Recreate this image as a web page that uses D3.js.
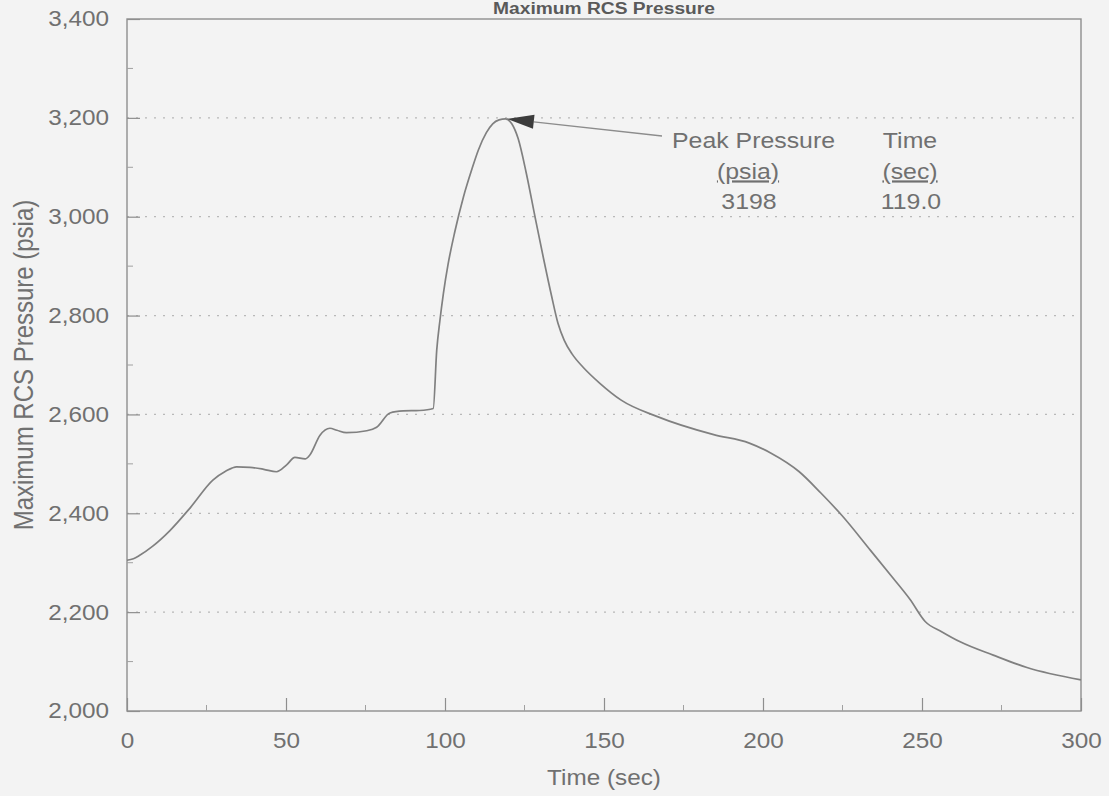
<!DOCTYPE html>
<html>
<head>
<meta charset="utf-8">
<script src="https://cdn.jsdelivr.net/npm/d3@7"></script>
<style>
  html, body { margin: 0; padding: 0; background: #f3f3f3; }
  svg { display: block; }
</style>
</head>
<body>
<script>
// Maximum RCS pressure transient (time in sec, pressure in psia)
const timeSec = [
  0, 2, 4, 8, 13.5, 20, 27, 31, 34.5, 38.7, 43, 47, 50.2, 52.8, 56, 57.5,
  60.7, 63.8, 66, 69, 75.4, 78.5, 82.7, 86.9, 92, 96.3, 97.4, 98.4, 99.5,
  101, 103.1, 105.8, 108.4, 110.5, 113, 115, 117, 119, 121, 123, 125.5,
  128.3, 131, 133.5, 135.5, 137.5, 140, 143.5, 148.7, 155.4, 166.6, 184.5,
  195.7, 202.4, 211.4, 218.2, 224.9, 233.8, 241, 246.2, 251, 256.3, 262,
  272.4, 283, 300
];
const pressurePsia = [
  2305, 2308, 2315, 2333, 2365, 2412, 2467, 2485, 2494, 2493, 2489, 2484,
  2498, 2513, 2510, 2518, 2558, 2572, 2568, 2563, 2567, 2574, 2603, 2607,
  2608, 2612, 2730, 2790, 2845, 2905, 2970, 3040, 3095, 3135, 3170, 3188,
  3196, 3198, 3188, 3158, 3090, 3000, 2915, 2840, 2785, 2750, 2722, 2695,
  2663, 2629, 2596, 2559, 2542, 2522, 2484, 2441, 2395, 2325, 2268, 2226,
  2181, 2160, 2140, 2113, 2088, 2063
];
const yTickValues = [2000, 2200, 2400, 2600, 2800, 3000, 3200, 3400];
const yMinorValues = [2100, 2300, 2500, 2700, 2900, 3100, 3300];
const xTickValues = [0, 50, 100, 150, 200, 250, 300];
const xMinorValues = [25, 75, 125, 175, 225, 275];
const gridValues = [2200, 2400, 2600, 2800, 3000, 3200];

const chartTitle = "Maximum RCS Pressure";
const xTitle = "Time (sec)";
const yTitle = "Maximum RCS Pressure (psia)";
const peakPressure = 3198;
const peakTime = 119.0;

const W = 1109, H = 796;
const plot = { left: 127, right: 1081, top: 19, bottom: 711 };
const SX = 1.13;               // horizontal stretch of the lettering
const FONT = "'Liberation Sans', Arial, Helvetica, sans-serif";
const INK = "#707070";

const svg = d3.select("body").append("svg")
  .attr("width", W).attr("height", H)
  .style("background", "#f3f3f3");

const x = d3.scaleLinear().domain([0, 300]).range([plot.left, plot.right]);
const y = d3.scaleLinear().domain([2000, 3400]).range([plot.bottom, plot.top]);

// dotted horizontal grid
svg.append("g").selectAll("line").data(gridValues).join("line")
  .attr("x1", plot.left).attr("x2", plot.right)
  .attr("y1", d => y(d)).attr("y2", d => y(d))
  .attr("stroke", "#b8b8b8").attr("stroke-width", 1.2)
  .attr("stroke-dasharray", "2,7");

// frame
svg.append("rect")
  .attr("x", plot.left).attr("y", plot.top)
  .attr("width", plot.right - plot.left).attr("height", plot.bottom - plot.top)
  .attr("fill", "none").attr("stroke", "#8e8e8e").attr("stroke-width", 1.4);

// left axis
const yAxis = svg.append("g")
  .attr("transform", `translate(${plot.left},0)`)
  .call(d3.axisLeft(y).tickValues(yTickValues).tickFormat(d3.format(",")).tickSize(-13).tickPadding(0));
yAxis.select(".domain").remove();
yAxis.selectAll(".tick line").attr("stroke", "#8e8e8e").attr("stroke-width", 1.2);
yAxis.selectAll(".tick text")
  .attr("x", -18 / SX)
  .attr("transform", `scale(${SX},1)`)
  .attr("font-family", FONT).attr("font-size", 21.5).attr("fill", INK);

svg.append("g").selectAll("line").data(yMinorValues).join("line")
  .attr("x1", plot.left).attr("x2", plot.left + 6)
  .attr("y1", d => y(d)).attr("y2", d => y(d))
  .attr("stroke", "#a0a0a0").attr("stroke-width", 1);

// bottom axis
const xAxis = svg.append("g")
  .attr("transform", `translate(0,${plot.bottom})`)
  .call(d3.axisBottom(x).tickValues(xTickValues).tickFormat(d3.format("d")).tickSize(-13).tickPadding(0));
xAxis.select(".domain").remove();
xAxis.selectAll(".tick line").attr("stroke", "#8e8e8e").attr("stroke-width", 1.2);
xAxis.selectAll(".tick text")
  .attr("y", 37).attr("dy", null)
  .attr("transform", `scale(${SX},1)`)
  .attr("font-family", FONT).attr("font-size", 21.5).attr("fill", INK);

svg.append("g").selectAll("line").data(xMinorValues).join("line")
  .attr("x1", d => x(d)).attr("x2", d => x(d))
  .attr("y1", plot.bottom).attr("y2", plot.bottom - 6)
  .attr("stroke", "#a0a0a0").attr("stroke-width", 1);

// pressure trace
const line = d3.line()
  .x((d, i) => x(timeSec[i]))
  .y(d => y(d))
  .curve(d3.curveMonotoneX);
svg.append("path")
  .datum(pressurePsia)
  .attr("d", line)
  .attr("fill", "none")
  .attr("stroke", "#808080")
  .attr("stroke-width", 1.7);

// helper for stretched text
function label(txt, px, py, opts = {}) {
  return svg.append("text")
    .attr("transform", `translate(${px},${py}) scale(${SX},1)` + (opts.rotate ? ` rotate(${opts.rotate})` : ""))
    .attr("text-anchor", opts.anchor || "middle")
    .attr("font-family", FONT)
    .attr("font-size", opts.size || 21.5)
    .attr("font-weight", opts.weight || "normal")
    .attr("fill", opts.fill || INK)
    .attr("text-decoration", opts.underline ? "underline" : null)
    .text(txt);
}

// titles
label(chartTitle, 604, 14, { weight: "bold", fill: "#5a5a5a", size: 17 });
label(xTitle, 604, 785);
label(yTitle, 33, 365, { rotate: -90, size: 24 });

// peak annotation: arrow from the text to the peak point
const tipX = x(peakTime) + 1.5, tipY = y(peakPressure);
const endX = 662, endY = 136;
const ang = Math.atan2(endY - tipY, endX - tipX);
const headLen = 27, headHalf = 7;
const bx = tipX + headLen * Math.cos(ang), by = tipY + headLen * Math.sin(ang);
svg.append("line")
  .attr("x1", bx).attr("y1", by).attr("x2", endX).attr("y2", endY)
  .attr("stroke", "#8c8c8c").attr("stroke-width", 1.3);
svg.append("path")
  .attr("d", `M${tipX},${tipY} L${bx - headHalf * Math.sin(ang)},${by + headHalf * Math.cos(ang)} L${bx + headHalf * Math.sin(ang)},${by - headHalf * Math.cos(ang)} Z`)
  .attr("fill", "#3c3c3c");

label("Peak Pressure", 672, 148, { anchor: "start", size: 22 });
label("Time", 910, 148, { size: 22 });
label("(psia)", 748, 178.5, { size: 22, underline: true });
label("(sec)", 910, 178.5, { size: 22, underline: true });
label(String(peakPressure), 749, 209, { size: 22 });
label(peakTime.toFixed(1), 911, 209, { size: 22 });
</script>
</body>
</html>
